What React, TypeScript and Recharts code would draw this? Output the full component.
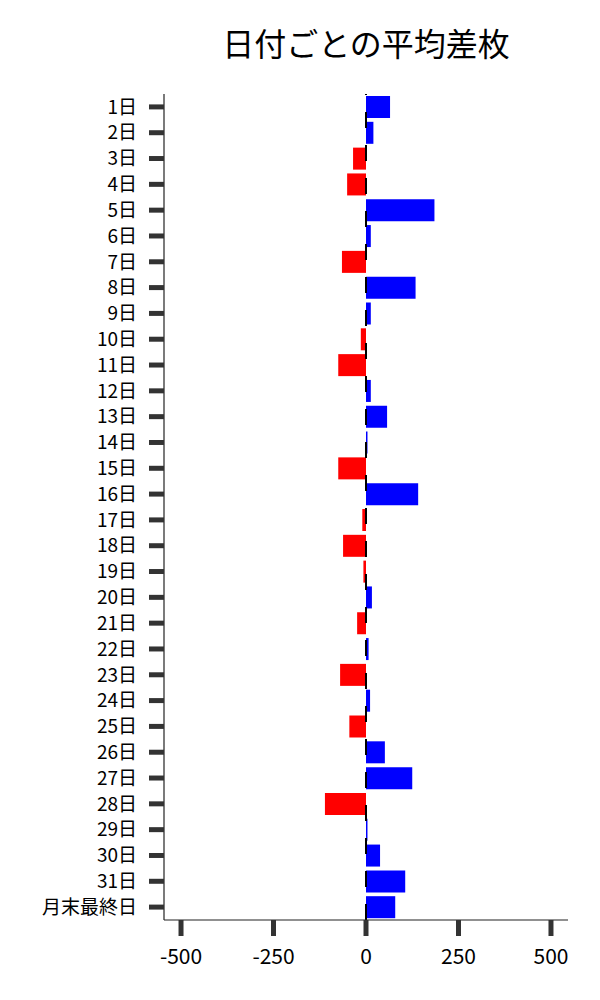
import React from "react";
import { BarChart, Bar, XAxis, YAxis, Cell, ReferenceLine } from "recharts";

// Day-of-month labels, top to bottom.
const DAYS = [
  "1日", "2日", "3日", "4日", "5日", "6日", "7日", "8日", "9日", "10日",
  "11日", "12日", "13日", "14日", "15日", "16日", "17日", "18日", "19日", "20日",
  "21日", "22日", "23日", "24日", "25日", "26日", "27日", "28日", "29日", "30日",
  "31日", "月末最終日",
];

// Average coin difference per day.
const AVG_DIFF = [
  65, 20, -35, -51, 185, 13, -65, 134, 13, -14,
  -75, 13, 57, 4, -75, 141, -10, -62, -7, 16,
  -24, 7, -70, 11, -45, 51, 125, -111, 4, 38,
  106, 79,
];

const X_TICKS = [-500, -250, 0, 250, 500];

const POS_COLOR = "#0000ff";
const NEG_COLOR = "#ff0000";

const data = DAYS.map((day, i) => ({ day, diff: AVG_DIFF[i] }));

export default function App() {
  return (
    <div
      style={{
        position: "absolute",
        left: 0,
        top: 0,
        width: 600,
        height: 1000,
        background: "#fff",
        fontFamily: '"Noto Sans CJK JP", "Noto Sans", sans-serif',
      }}
    >
      {/* title is centred over the plot area, not the whole figure */}
      <div
        style={{
          position: "absolute",
          left: 164,
          width: 404,
          top: 22,
          textAlign: "center",
          fontSize: 32,
          lineHeight: "40px",
          color: "#000",
        }}
      >
        日付ごとの平均差枚
      </div>

      <BarChart
        width={600}
        height={1000}
        data={data}
        layout="vertical"
        margin={{ top: 94, right: 32, bottom: 0, left: 0 }}
        barSize={22}
      >
        <XAxis
          type="number"
          domain={[-546, 546]}
          ticks={X_TICKS}
          allowDataOverflow
          height={80}
          tickSize={16}
          tickMargin={13}
          axisLine={{ stroke: "#222", strokeWidth: 1.2 }}
          tickLine={{ stroke: "#333", strokeWidth: 5 }}
          tick={{ fontSize: 21, fill: "#000" }}
        />
        {/* 19px keeps the stacked day labels from colliding */}
        <YAxis
          type="category"
          dataKey="day"
          width={164}
          interval={0}
          tickSize={15}
          tickMargin={12}
          axisLine={{ stroke: "#222", strokeWidth: 1.2 }}
          tickLine={{ stroke: "#333", strokeWidth: 5 }}
          tick={{ fontSize: 19, fill: "#000" }}
        />
        <Bar dataKey="diff" isAnimationActive={false}>
          {data.map((d) => (
            <Cell key={d.day} fill={d.diff >= 0 ? POS_COLOR : NEG_COLOR} />
          ))}
        </Bar>
        {/* dashed zero line drawn over the bars */}
        <ReferenceLine x={0} stroke="#000" strokeWidth={2} strokeDasharray="16 17" />
      </BarChart>
    </div>
  );
}
